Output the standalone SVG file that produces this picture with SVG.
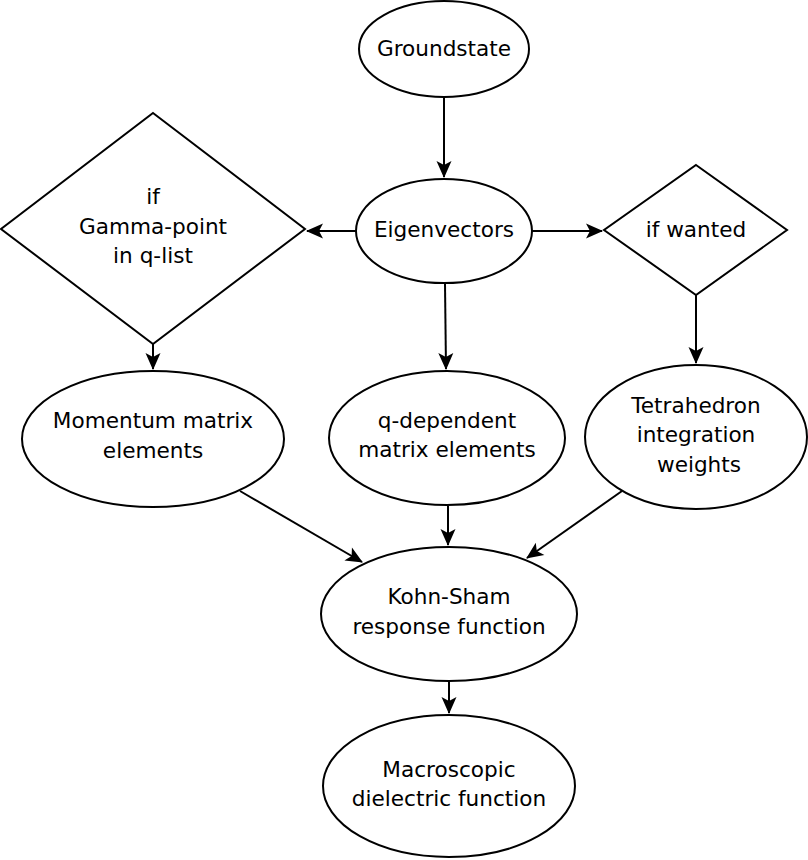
<svg xmlns="http://www.w3.org/2000/svg" width="808" height="860" viewBox="0 0 808 860">
<style>
.n{fill:#fff;stroke:#000;stroke-width:2}
.t{font-family:"DejaVu Sans",sans-serif;font-size:21.6px;fill:#000;text-anchor:middle}
.c{stroke:#000;stroke-width:2;fill:none;marker-end:url(#a)}
</style>
<defs>
<marker id="a" markerUnits="userSpaceOnUse" viewBox="-17 -9 19 18" markerWidth="19" markerHeight="18" refX="0" refY="0" orient="auto">
<path d="M1,0 L-16,-7.5 L-12,0 L-16,7.5 Z" fill="#000"/>
</marker>
</defs>
<rect width="808" height="860" fill="#fff"/>
<g id="connectors">
<line class="c" x1="444" y1="97" x2="444" y2="177"/>
<line class="c" x1="356" y1="231" x2="307" y2="231"/>
<line class="c" x1="532" y1="231" x2="602" y2="231"/>
<line class="c" x1="445" y1="284" x2="446" y2="369"/>
<line class="c" x1="153" y1="344" x2="153" y2="369"/>
<line class="c" x1="696" y1="295" x2="696" y2="363"/>
<line class="c" x1="240" y1="491" x2="362" y2="562"/>
<line class="c" x1="448" y1="506" x2="448" y2="545"/>
<line class="c" x1="622" y1="491" x2="527" y2="558"/>
<line class="c" x1="449" y1="682" x2="449" y2="713"/>
</g>
<g id="groundstate"><ellipse class="n" cx="444" cy="49" rx="85" ry="48"/><text class="t" x="444" y="56">Groundstate</text></g>
<g id="eigenvectors"><ellipse class="n" cx="444" cy="231" rx="88" ry="52"/><text class="t" x="444" y="237">Eigenvectors</text></g>
<g id="gamma"><polygon class="n" points="153,113 305,229 153,344 1,229"/><text class="t" x="153" y="204">if</text><text class="t" x="153" y="234">Gamma-point</text><text class="t" x="153" y="263">in q-list</text></g>
<g id="wanted"><polygon class="n" points="696,165 787,230 696,295 604,230"/><text class="t" x="696" y="237">if wanted</text></g>
<g id="momentum"><ellipse class="n" cx="153" cy="439" rx="131" ry="68"/><text class="t" x="153" y="428">Momentum matrix</text><text class="t" x="153" y="458">elements</text></g>
<g id="qdep"><ellipse class="n" cx="447" cy="438" rx="118" ry="67"/><text class="t" x="447" y="428">q-dependent</text><text class="t" x="447" y="457">matrix elements</text></g>
<g id="tetra"><ellipse class="n" cx="696" cy="437" rx="111" ry="72"/><text class="t" x="696" y="413">Tetrahedron</text><text class="t" x="696" y="442">integration</text><text class="t" x="699" y="472">weights</text></g>
<g id="kohnsham"><ellipse class="n" cx="449" cy="614" rx="128" ry="67"/><text class="t" x="449" y="604">Kohn-Sham</text><text class="t" x="449" y="634">response function</text></g>
<g id="macro"><ellipse class="n" cx="449" cy="786" rx="126" ry="71"/><text class="t" x="449" y="777">Macroscopic</text><text class="t" x="449" y="806">dielectric function</text></g>
</svg>
